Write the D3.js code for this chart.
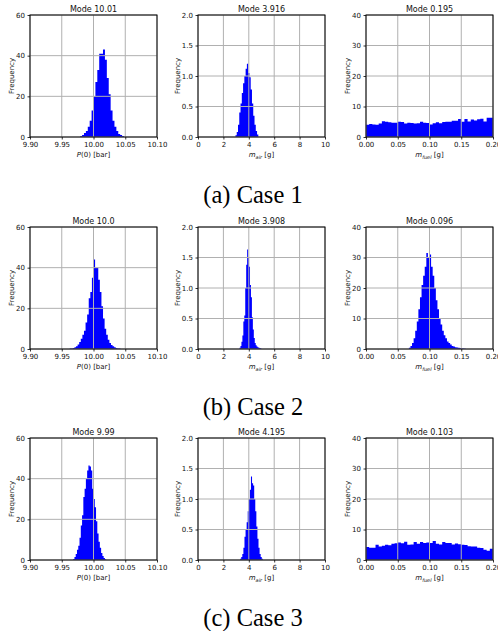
<!DOCTYPE html>
<html>
<head>
<meta charset="utf-8">
<script src="https://cdn.jsdelivr.net/npm/d3@7"></script>
<style>
  body { margin: 0; background: #fff; }
  svg { display: block; }
  text { font-family: "DejaVu Sans", sans-serif; fill: #111; }
  .caption { font-family: "Liberation Serif", "Times New Roman", serif; font-size: 24.5px; fill: #000; }
</style>
</head>
<body>
<svg id="chart" width="498" height="631"></svg>
<script>
// Histogram densities, one array per case
const pStart = [9.979, 9.9625, 9.968];
const pWidth = [0.003, 0.0025, 0.002];
const pCase1 = [0.5, 1, 2, 3, 5, 8, 13, 20, 27, 33, 41, 41, 43, 38, 29, 21, 13, 8, 5, 3, 1.5, 1, 0.5];
const pCase2 = [0.2, 0.3, 0.5, 0.8, 1.3, 2.2, 3.5, 5, 7, 9, 13, 17, 25, 28, 35, 44, 40, 40, 34, 28, 21, 15, 10, 7, 4.5, 3, 2, 1.3, 0.8, 0.5, 0.3, 0.2];
const pCase3 = [0.5, 1.5, 3, 5, 7, 11, 17, 22, 31, 35, 40, 44, 46.5, 46, 44, 35, 30, 26, 19, 13, 9, 6, 3.5, 2, 1, 0.4];

const airStart = [2.95, 3.27, 3.32];
const airWidth = [0.1, 0.075, 0.085];
const airCase1 = [0.03, 0.08, 0.2, 0.4, 0.55, 0.72, 0.88, 1.0, 1.12, 1.2, 1.05, 0.98, 0.78, 0.55, 0.35, 0.2, 0.1, 0.04];
const airCase2 = [0.02, 0.05, 0.12, 0.22, 0.45, 0.55, 1.0, 1.38, 1.63, 1.5, 1.35, 1.05, 0.85, 0.52, 0.32, 0.18, 0.1, 0.06, 0.04, 0.03, 0.02, 0.015, 0.01];
const airCase3 = [0.02, 0.05, 0.1, 0.2, 0.38, 0.5, 0.62, 0.8, 1.0, 1.15, 1.37, 1.26, 1.22, 1.0, 0.8, 0.55, 0.35, 0.2, 0.1, 0.05, 0.02];

const fuelStart = [0.0, 0.0675, 0.0];
const fuelWidth = [0.005, 0.0025, 0.005];
const fuelCase1 = [4.0, 4.3, 4.1, 4.0, 4.4, 5.2, 5.0, 4.8, 4.7, 4.7, 5.0, 4.9, 4.4, 4.7, 4.6, 4.4, 4.5, 5.0, 4.7, 4.6,
                   4.1, 4.5, 4.8, 4.5, 4.9, 5.0, 5.0, 5.3, 5.3, 5.9, 5.0, 5.9, 5.1, 5.7, 5.4, 5.8, 6.0, 5.1, 6.3, 6.3];
const fuelCase2 = [0.4, 1, 2, 3.5, 6, 9, 13, 17, 21, 24, 27, 31.5, 30, 31, 27, 24, 20, 16, 13, 10, 8, 6, 4.5, 3.5,
                   2.5, 2, 1.5, 1, 0.8, 0.6, 0.5, 0.4, 0.3, 0.2, 0.15, 0.1];
const fuelCase3 = [4.3, 4.0, 4.0, 5.0, 4.4, 4.7, 5.0, 4.8, 5.3, 5.5, 5.7, 5.5, 6.0, 5.0, 5.1, 5.9, 5.3, 5.9, 5.6, 5.7,
                   5.6, 6.2, 5.3, 5.1, 5.9, 5.6, 5.6, 5.1, 5.4, 5.2, 5.0, 4.9, 4.5, 4.4, 4.4, 4.0, 3.9, 3.4, 3.0, 3.7];

const modeP = ['10.01', '10.0', '9.99'];
const modeAir = ['3.916', '3.908', '4.195'];
const modeFuel = ['0.195', '0.096', '0.103'];
const captions = ['(a) Case 1', '(b) Case 2', '(c) Case 3'];

const pTicks = [9.90, 9.95, 10.00, 10.05, 10.10];
const pYTicks = [0, 20, 40, 60];
const airTicks = [0, 2, 4, 6, 8, 10];
const airYTicks = [0.0, 0.5, 1.0, 1.5, 2.0];
const fuelTicks = [0.00, 0.05, 0.10, 0.15, 0.20];
const fuelYTicks = [0, 10, 20, 30, 40];

const svg = d3.select('#chart');

// layout of the 3x3 grid
const colLeft = [30, 198, 366];
const rowTop = [15, 227, 438];
const W = 127, H = 122;
const TICK = 2.5, PAD = 2.5;

const pVals = [pCase1, pCase2, pCase3];
const airVals = [airCase1, airCase2, airCase3];
const fuelVals = [fuelCase1, fuelCase2, fuelCase3];

let clipId = 0;

function drawPanel(opt) {
  const g = svg.append('g').attr('transform', `translate(${opt.left},${opt.top})`);
  const x = d3.scaleLinear().domain(opt.xDomain).range([0, W]);
  const y = d3.scaleLinear().domain(opt.yDomain).range([H, 0]);

  const id = 'clip' + (clipId++);
  g.append('clipPath').attr('id', id).append('rect').attr('width', W).attr('height', H);

  // step area, one path so thin bins don't leave seams
  const pts = opt.values.map((v, i) => [opt.start + i * opt.width, v]);
  pts.push([opt.start + opt.values.length * opt.width, opt.values[opt.values.length - 1]]);
  const area = d3.area()
    .x(d => x(d[0]))
    .y0(H)
    .y1(d => y(d[1]))
    .curve(d3.curveStepAfter);
  g.append('path')
    .attr('clip-path', `url(#${id})`)
    .attr('d', area(pts))
    .attr('fill', '#0000ff');

  // grid over the bars (matplotlib default)
  g.append('g').selectAll('line.gx')
    .data(opt.xTicks)
    .join('line')
    .attr('x1', d => x(d)).attr('x2', d => x(d))
    .attr('y1', 0).attr('y2', H)
    .attr('stroke', '#b0b0b0').attr('stroke-width', 1);
  g.append('g').selectAll('line.gy')
    .data(opt.yTicks)
    .join('line')
    .attr('y1', d => y(d)).attr('y2', d => y(d))
    .attr('x1', 0).attr('x2', W)
    .attr('stroke', '#b0b0b0').attr('stroke-width', 1);

  // axes
  const xAxis = d3.axisBottom(x).tickValues(opt.xTicks).tickFormat(opt.xFmt)
    .tickSize(TICK).tickPadding(PAD).tickSizeOuter(0);
  const yAxis = d3.axisLeft(y).tickValues(opt.yTicks).tickFormat(opt.yFmt)
    .tickSize(TICK).tickPadding(PAD).tickSizeOuter(0);
  const gx = g.append('g').attr('transform', `translate(0,${H})`).call(xAxis);
  const gy = g.append('g').call(yAxis);
  [gx, gy].forEach(a => {
    a.select('.domain').remove();
    a.selectAll('.tick line').attr('stroke', '#000').attr('stroke-width', 0.8);
    a.selectAll('.tick text').attr('font-size', 7).attr('font-family', '"DejaVu Sans", sans-serif').attr('fill', '#111');
  });

  // spines
  g.append('rect')
    .attr('width', W).attr('height', H)
    .attr('fill', 'none').attr('stroke', '#000').attr('stroke-width', 1);

  // title
  g.append('text')
    .attr('x', W / 2).attr('y', -3.5)
    .attr('text-anchor', 'middle')
    .attr('font-size', 8)
    .text('Mode ' + opt.mode);

  // y label
  g.append('text')
    .attr('transform', `translate(${-opt.yLabelOff},${H / 2}) rotate(-90)`)
    .attr('text-anchor', 'middle')
    .attr('font-size', 7)
    .text('Frequency');

  // x label
  const xl = g.append('text')
    .attr('x', W / 2).attr('y', H + 20)
    .attr('text-anchor', 'middle')
    .attr('font-size', 7);
  opt.xLabel(xl);
}

function labelP(t) {
  t.append('tspan').style('font-style', 'italic').text('P');
  t.append('tspan').text('(0) [bar]');
}
function labelM(sub) {
  return t => {
    t.append('tspan').style('font-style', 'italic').text('m');
    t.append('tspan').style('font-style', 'italic').attr('font-size', 5).attr('dy', 1.5).text(sub);
    t.append('tspan').attr('dy', -1.5).text(' [g]');
  };
}

for (let r = 0; r < 3; r++) {
  drawPanel({
    left: colLeft[0], top: rowTop[r],
    xDomain: [9.90, 10.10], yDomain: [0, 60],
    xTicks: pTicks, yTicks: pYTicks,
    xFmt: d3.format('.2f'), yFmt: d3.format('d'),
    start: pStart[r], width: pWidth[r], values: pVals[r],
    mode: modeP[r], yLabelOff: 16.5, xLabel: labelP
  });
  drawPanel({
    left: colLeft[1], top: rowTop[r],
    xDomain: [0, 10], yDomain: [0, 2],
    xTicks: airTicks, yTicks: airYTicks,
    xFmt: d3.format('d'), yFmt: d3.format('.1f'),
    start: airStart[r], width: airWidth[r], values: airVals[r],
    mode: modeAir[r], yLabelOff: 18.5, xLabel: labelM('air')
  });
  drawPanel({
    left: colLeft[2], top: rowTop[r],
    xDomain: [0, 0.2], yDomain: [0, 40],
    xTicks: fuelTicks, yTicks: fuelYTicks,
    xFmt: d3.format('.2f'), yFmt: d3.format('d'),
    start: fuelStart[r], width: fuelWidth[r], values: fuelVals[r],
    mode: modeFuel[r], yLabelOff: 16.5, xLabel: labelM('fuel')
  });

  svg.append('text')
    .attr('class', 'caption')
    .attr('x', 253)
    .attr('y', rowTop[r] + 188)
    .attr('text-anchor', 'middle')
    .text(captions[r]);
}
</script>
</body>
</html>
